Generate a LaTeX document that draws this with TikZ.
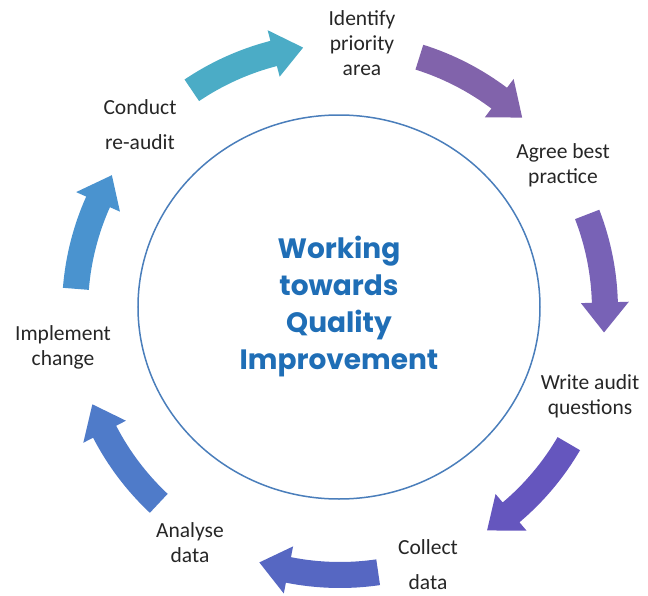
\documentclass[tikz,border=0pt]{standalone}
\usepackage{fontspec}
\setmainfont{Carlito}
\newfontfamily\headfont{Poppins}
\usetikzlibrary{shapes.geometric}
\definecolor{arrA}{HTML}{4BACC6}
\definecolor{arrB}{HTML}{8163AB}
\definecolor{arrC}{HTML}{7862B6}
\definecolor{arrD}{HTML}{6556BE}
\definecolor{arrE}{HTML}{5667C2}
\definecolor{arrF}{HTML}{4F7BC9}
\definecolor{arrG}{HTML}{4A93CF}
\definecolor{ringblue}{HTML}{4A7EBB}
\definecolor{headblue}{HTML}{1F6EB6}

\begin{document}
\begin{tikzpicture}[x=1pt,y=1pt,
   lbl/.style={align=center,text=black!85,font=\fontsize{21.5}{25}\selectfont},
   ring/.style={ellipse,draw=ringblue,line width=1.5pt,minimum width=402pt,minimum height=384pt}]
   \useasboundingbox (-340,-285) rectangle (308,310);
   \node[ring] (R) at (-1,3) {};
   \node[align=center,text=headblue,font=\headfont\bfseries\fontsize{28}{37}\selectfont] (T) at (R.center)
      {Working\\towards\\Quality\\Improvement};
   % seven curved block arrows round the ring
   \foreach \c [count=\i from 0] in {arrA,arrB,arrC,arrD,arrE,arrF,arrG}{
      \pgfmathsetmacro\a{124-\i*51.43}
      \pgfmathsetmacro\h{\a-19.5}
      \pgfmathsetmacro\b{\a-26}
      \fill[\c] (\a:278) arc[start angle=\a,end angle=\h,radius=278]
         -- (\h:289) -- (\b:265) -- (\h:241)
         -- (\h:252) arc[start angle=\h,end angle=\a,radius=252] -- cycle;
   }
   \node[lbl] (I) at (22,267) {Identify\\priority\\area};
   \node[lbl] (A) at (223,145) {Agree best\\practice};
   \node[lbl] (W) at (250,-86) {Write audit\\questions};
   \node[lbl] (C) at (88,-255) {Collect\\[10pt]data};
   \node[lbl] (D) at (-150,-233) {Analyse\\data};
   \node[lbl] (M) at (-277,-37) {Implement\\change};
   \node[lbl] (U) at (-200,185) {Conduct\\[10pt]re-audit};
\end{tikzpicture}
\end{document}
